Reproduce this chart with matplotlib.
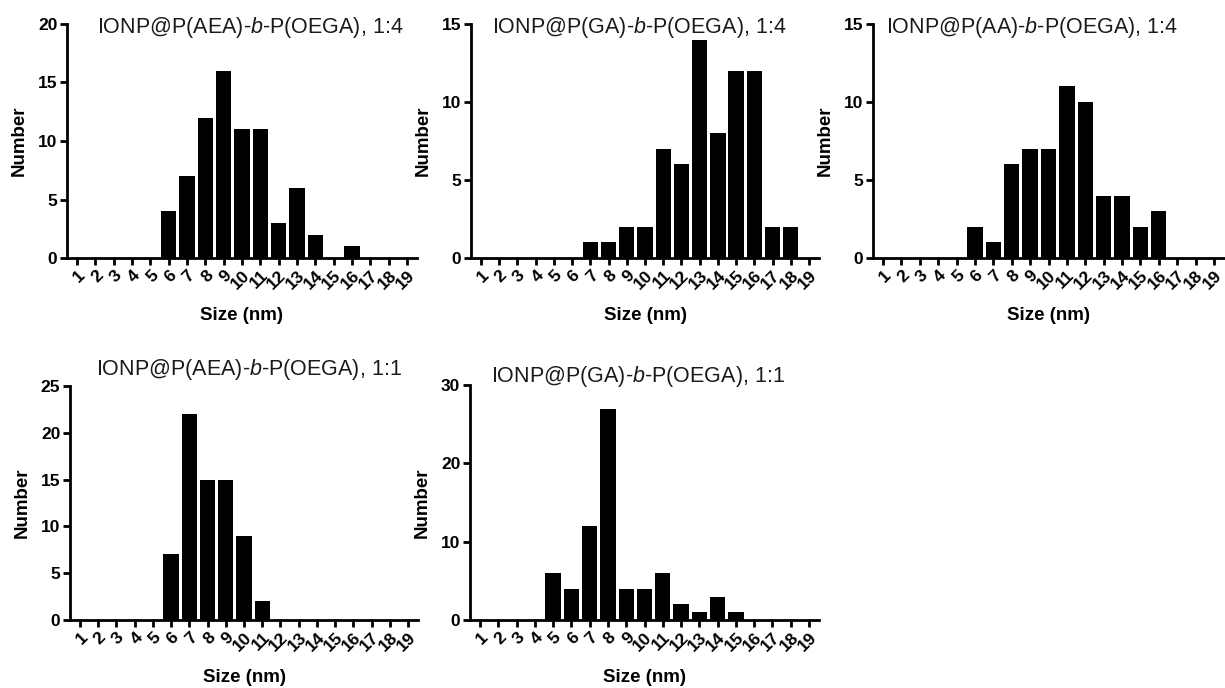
import matplotlib
matplotlib.use("Agg")
import matplotlib.pyplot as plt
import numpy as np

plt.rcParams['font.family'] = ['Liberation Sans', 'DejaVu Sans']
plt.rcParams['mathtext.fontset'] = 'custom'
plt.rcParams['mathtext.rm'] = 'Liberation Sans'
plt.rcParams['mathtext.it'] = 'Liberation Sans:italic'

sizes = list(range(1, 20))

titles = [
    r"IONP@P(AEA)-$\mathit{b}$-P(OEGA), 1:4",
    r"IONP@P(GA)-$\mathit{b}$-P(OEGA), 1:4",
    r"IONP@P(AA)-$\mathit{b}$-P(OEGA), 1:4",
    r"IONP@P(AEA)-$\mathit{b}$-P(OEGA), 1:1",
    r"IONP@P(GA)-$\mathit{b}$-P(OEGA), 1:1",
]

aea_14 = [0, 0, 0, 0, 0, 4, 7, 12, 16, 11, 11, 3, 6, 2, 0, 1, 0, 0, 0]
ga_14 = [0, 0, 0, 0, 0, 0, 1, 1, 2, 2, 7, 6, 14, 8, 12, 12, 2, 2, 0]
aa_14 = [0, 0, 0, 0, 0, 2, 1, 6, 7, 7, 11, 10, 4, 4, 2, 3, 0, 0, 0]
aea_11 = [0, 0, 0, 0, 0, 7, 22, 15, 15, 9, 2, 0, 0, 0, 0, 0, 0, 0, 0]
ga_11 = [0, 0, 0, 0, 6, 4, 12, 27, 4, 4, 6, 2, 1, 3, 1, 0, 0, 0, 0]

series = [aea_14, ga_14, aa_14, aea_11, ga_11]
y_max = [20, 15, 15, 25, 30]
y_step = [5, 5, 5, 5, 10]

W, H = 1225, 688
fig = plt.figure(figsize=(W / 100, H / 100), dpi=100)

# axes boxes in pixels: left, right, top, bottom
boxes = [
    (67, 417, 24, 258),
    (471, 819, 24, 258),
    (873, 1224, 24, 258),
    (70, 418, 386, 620),
    (470, 819, 385, 620),
]
title_pos = [(0.523, 0.985), (0.483, 0.985), (0.453, 0.985), (0.515, 1.07), (0.481, 1.037)]

for i in range(5):
    l, r, t, b = boxes[i]
    ax = fig.add_axes([l / W, 1 - b / H, (r - l) / W, (b - t) / H])
    ax.bar(sizes, series[i], width=0.84, color='black', edgecolor='none')
    ax.set_xlim(0.45, 19.55)
    ax.set_ylim(0, y_max[i])
    ax.set_yticks(np.arange(0, y_max[i] + 1, y_step[i]))
    ax.set_xticks(sizes)
    ax.set_xticklabels([str(s) for s in sizes], rotation=45, ha='right',
                       va='top', rotation_mode='anchor', fontweight='bold', fontsize=12.5)
    for lab in ax.get_yticklabels():
        lab.set_fontweight('bold')
        lab.set_fontsize(12.5)
    for side in ['top', 'right']:
        ax.spines[side].set_visible(False)
    for side in ['left', 'bottom']:
        ax.spines[side].set_linewidth(2)
    ax.tick_params(axis='both', direction='out', length=5, width=2, color='black')
    ax.tick_params(axis='x', pad=2)
    ax.tick_params(axis='y', pad=2)
    ax.set_ylabel('Number', fontweight='bold', fontsize=13.5, labelpad=7)
    ax.set_xlabel('Size (nm)', fontweight='bold', fontsize=13.5, labelpad=11)
    ax.text(title_pos[i][0], title_pos[i][1], titles[i], transform=ax.transAxes,
            ha='center', va='center', fontsize=15.5, color='#1a1a1a')

fig.savefig('out.png', dpi=100)
